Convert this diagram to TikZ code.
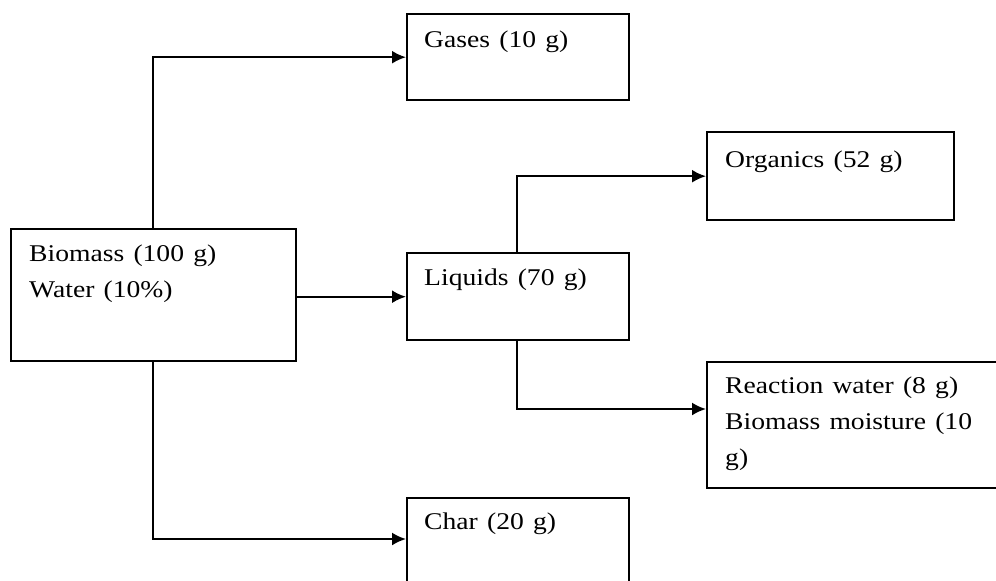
\documentclass[tikz,border=0pt]{standalone}
\usepackage{fontspec}
\setmainfont{Liberation Serif}
\usetikzlibrary{arrows.meta}
\tikzset{
  box/.style={draw=black, line width=2.4pt, inner sep=0pt, anchor=north west, fill=none},
  lbl/.style={anchor=base west, inner sep=0pt, text width=290pt, align=left,
    font=\fontsize{24}{36}\selectfont, xscale=1.15, transform shape},
  flow/.style={draw=black, line width=2.2pt, -{Latex[length=14pt,width=13pt]}}
}
\begin{document}
\begin{tikzpicture}[x=1pt,y=-1pt]
\useasboundingbox (0,0) rectangle (996,581);
\clip (0,0) rectangle (996,581);
% boxes
\node[box, minimum width=285pt, minimum height=132pt] (bio) at (10,228) {};
\node[box, minimum width=222pt, minimum height=86pt] (gas) at (406,13) {};
\node[box, minimum width=222pt, minimum height=87pt] (liq) at (406,252) {};
\node[box, minimum width=247pt, minimum height=88pt] (org) at (706,131) {};
\node[box, minimum width=310pt, minimum height=126pt] (rea) at (706,361) {};
\node[box, minimum width=222pt, minimum height=110pt] (char) at (406,497) {};
% texts
\node[lbl] (biot) at (29,261) {Biomass (100 g)\\Water (10\%)};
\node[lbl] (gast) at (424,47) {Gases (10 g)};
\node[lbl] (liqt) at (424,285) {Liquids (70 g)};
\node[lbl] (orgt) at (725,167) {Organics (52 g)};
\node[lbl] (reat) at (725,393) {Reaction water (8 g)\\Biomass moisture (10\\g)};
\node[lbl] (chart) at (424,529) {Char (20 g)};
% connector anchors
\coordinate (bx) at (153,0);
\coordinate (lx) at (517,0);
\coordinate (reain) at (706,409);
\coordinate (charin) at (406,539);
% connectors
\draw[flow] (bio.north -| bx) |- (gas.west);
\draw[flow] (bio.east |- liq.west) -- (liq.west);
\draw[flow] (liq.north -| lx) |- (org.west);
\draw[flow] (liq.south -| lx) |- (reain);
\draw[flow] (bio.south -| bx) |- (charin);
\end{tikzpicture}
\end{document}
